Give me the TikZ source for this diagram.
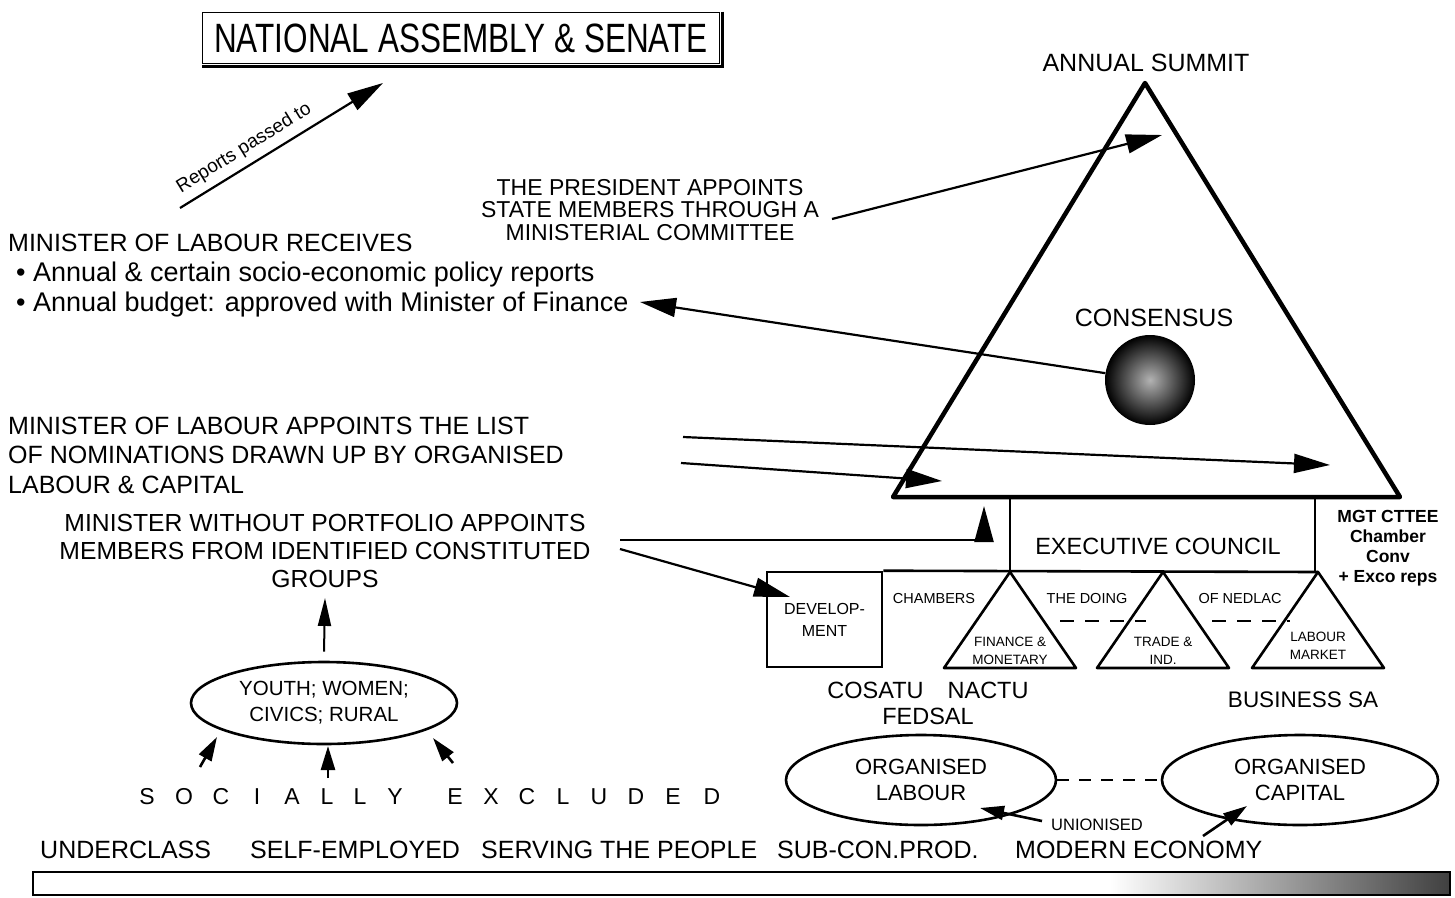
\documentclass[tikz,border=0pt]{standalone}
\usepackage{fontspec}
\setmainfont{Liberation Sans}
\usetikzlibrary{arrows.meta}
\usetikzlibrary{shapes.geometric}

\begin{document}
\begin{tikzpicture}[x=1pt,y=-1pt]
	\tikzset{txt/.style = {inner sep=0pt, font=\fontsize{25}{30}\selectfont}}
	\tikzset{small/.style = {inner sep=0pt, font=\fontsize{14.5}{17}\selectfont}}
	\tikzset{edge/.style = {-{Triangle[length=36pt,width=19pt]}, line width=2.2pt}}
	\tikzset{stub/.style = {-{Triangle[length=24pt,width=14pt]}, line width=2.6pt}}
	\tikzset{oval/.style = {ellipse, draw, line width=2.6pt, align=center, inner sep=0pt}}
	\useasboundingbox (0,0) rectangle (1455,897);
	% parliament
	\node[draw, line width=1.8pt, minimum width=517pt, minimum height=51pt, font=\fontsize{31.5}{32}\selectfont] (senate) at (461,38) {\scalebox{1}[1.3]{NATIONAL ASSEMBLY \& SENATE}};
	\draw[line width=3pt] ([xshift=2.5pt]senate.north east) |- ([yshift=-2.5pt]senate.south west);
	\coordinate (rep tail) at (180,208);
	\coordinate (rep tip) at (383,83);
	\draw[edge] (rep tail) -- (rep tip) node[pos=0.36, sloped, above=7pt, inner sep=0pt, font=\fontsize{19}{20}\selectfont] (passed) {Reports passed to};
	% summit triangle
	\coordinate (top) at (1145,83);
	\coordinate (base l) at (893,497);
	\coordinate (base r) at (1400,497);
	\draw[line width=4.5pt, line join=round] (top) -- (base l) -- (base r) -- cycle;
	\node[txt] (summit) at (1146,63) {ANNUAL SUMMIT};
	\node[txt] (consensus) at (1154,318) {CONSENSUS};
	\node[circle, minimum size=90pt, inner color=black!30, outer color=black] (ball) at (1150,380) {};
	% ministers
	\node[txt, align=center, font=\fontsize{23}{22.5}\selectfont] (president) at (650,210) {THE PRESIDENT APPOINTS\\STATE MEMBERS THROUGH A\\MINISTERIAL COMMITTEE};
	\node[txt, anchor=west] (receives) at (8,243) {MINISTER OF LABOUR RECEIVES};
	\node[txt, anchor=west, align=left, font=\fontsize{27}{30}\selectfont] (reports) at (16,290) {\textbullet\ Annual \& certain socio-economic policy reports\\\textbullet\ Annual budget: approved with Minister of Finance};
	\node[txt, anchor=west, align=left, font=\fontsize{25}{29.5}\selectfont] (nominations) at (8,455) {MINISTER OF LABOUR APPOINTS THE LIST\\OF NOMINATIONS DRAWN UP BY ORGANISED\\LABOUR \& CAPITAL};
	\node[txt, align=center, font=\fontsize{24.7}{28}\selectfont] (portfolio) at (325,551) {MINISTER WITHOUT PORTFOLIO APPOINTS\\MEMBERS FROM IDENTIFIED CONSTITUTED\\GROUPS};
	% executive council and chambers
	\node[draw, line width=2.6pt, minimum width=115pt, minimum height=95pt, align=center, font=\fontsize{16}{22}\selectfont] (dev) at (824.5,619.5) {DEVELOP-\\MENT};
	\draw[line width=2.6pt] (dev.north east) -- (1318,572);
	\draw[line width=1.6pt] (1010,497) -- (1010,572) (1315,497) -- (1315,572);
	\node[txt, font=\fontsize{23.5}{26}\selectfont] (exco) at (1158,546) {EXECUTIVE COUNCIL};
	\node[align=center, inner sep=0pt, font=\bfseries\fontsize{17.5}{20}\selectfont] (mgt) at (1388,548) {MGT CTTEE\\Chamber\\Conv\\+ Exco reps};
	\foreach \x/\t [count=\i] in {934/CHAMBERS, 1087/THE DOING, 1240/OF NEDLAC}
		\node[small] (doing\i) at (\x,598) {\t};
	\foreach \x in {1010,1163,1318}
		\draw[line width=2.6pt, line join=round] (\x,572) -- (\x-66,668) -- (\x+66,668) -- cycle;
	\draw[dash pattern=on 14pt off 11pt, line width=1.4pt] (1060,621) -- (1146,621) (1212,621) -- (1290,621);
	\node[small, align=center, font=\fontsize{13.5}{18}\selectfont] (finance) at (1010,651) {FINANCE \&\\MONETARY};
	\node[small, align=center, font=\fontsize{13.5}{18}\selectfont] (trade) at (1163,651) {TRADE \&\\IND.};
	\node[small, align=center, font=\fontsize{13.5}{18}\selectfont] (market) at (1318,646) {LABOUR\\MARKET};
	% social partners
	\node[txt, align=center, font=\fontsize{23.5}{26}\selectfont] (unions) at (928,703) {COSATU\hspace{24pt}NACTU\\FEDSAL};
	\node[txt, font=\fontsize{22.5}{26}\selectfont] (business) at (1303,700) {BUSINESS SA};
	\node[oval, minimum width=270pt, minimum height=90pt, font=\fontsize{22}{26}\selectfont] (labour) at (921,780) {ORGANISED\\LABOUR};
	\node[oval, minimum width=276pt, minimum height=90pt, font=\fontsize{22}{26}\selectfont] (capital) at (1300,780) {ORGANISED\\CAPITAL};
	\draw[dash pattern=on 12pt off 10pt, line width=1.6pt] (labour) -- (capital);
	\node[small, font=\fontsize{16.5}{18}\selectfont] (unionised) at (1097,825) {UNIONISED};
	% constituted groups
	\node[oval, minimum width=266pt, minimum height=82pt, font=\fontsize{20.5}{26}\selectfont] (youth) at (324,703) {YOUTH; WOMEN;\\CIVICS; RURAL};
	\foreach \ch/\x in {S/147, O/184, C/221, I/257, A/292, L/327, L/360, Y/395, E/455, X/491, C/527, L/563, U/599, D/636, E/673, D/712}
		\node[txt, font=\fontsize{23}{25}\selectfont] (excl-\x) at (\x,797) {\ch};
	\foreach \x/\t in {40/UNDERCLASS, 250/SELF-EMPLOYED, 481/SERVING THE PEOPLE, 777/SUB-CON.PROD., 1015/MODERN ECONOMY}
		\node[txt, anchor=west] (econ-\x) at (\x,850) {\t};
	\fill[left color=white, right color=black!75] (1110,872) rectangle (1450,895);
	\draw[line width=2.5pt] (33,872) rectangle (1450,895);
	% arrows
	\coordinate (pres tail) at (832,219);
	\coordinate (pres tip) at (1162,135);
	\coordinate (fin tip) at (640,302);
	\coordinate (nom a tail) at (683,437);
	\coordinate (nom a tip) at (1330,465);
	\coordinate (nom b tail) at (681,463);
	\coordinate (nom b tip) at (942,481);
	\coordinate (wp tail a) at (620,540);
	\coordinate (exco tip) at (984,506);
	\coordinate (wp tail b) at (620,549);
	\coordinate (dev tip) at (790,597);
	\draw[edge] (pres tail) -- (pres tip);
	\draw[edge] (ball) -- (fin tip);
	\draw[edge] (nom a tail) -- (nom a tip);
	\draw[edge] (nom b tail) -- (nom b tip);
	\draw[edge] (wp tail a) -| (exco tip);
	\draw[edge] (wp tail b) -- (dev tip);
	\draw[-{Triangle[length=28pt,width=13pt]}, line width=2pt] ([yshift=9pt]youth.north) -- ([yshift=-10pt]portfolio.south);
	\coordinate (excl a tail) at (200,767);
	\coordinate (excl a tip) at (217,737);
	\coordinate (excl b tail) at (328,778);
	\coordinate (excl b tip) at (328,746);
	\coordinate (excl c tail) at (453,763);
	\coordinate (excl c tip) at (433,738);
	\draw[stub] (excl a tail) -- (excl a tip);
	\draw[stub] (excl b tail) -- (excl b tip);
	\draw[stub] (excl c tail) -- (excl c tip);
	\coordinate (union tail) at (1042,821);
	\coordinate (labour tip) at (980,808);
	\coordinate (modern tail) at (1203,836);
	\coordinate (capital tip) at (1247,806);
	\draw[stub] (union tail) -- (labour tip);
	\draw[stub] (modern tail) -- (capital tip);
\end{tikzpicture}
\end{document}
